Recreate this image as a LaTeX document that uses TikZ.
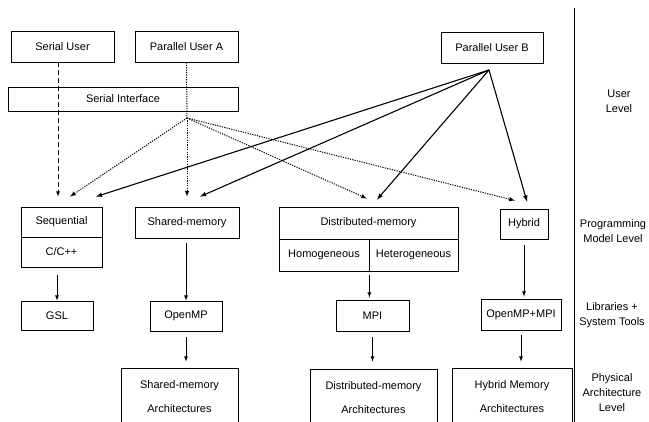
\documentclass[tikz,border=0pt]{standalone}
\usepackage{fontspec}
\setmainfont{Liberation Sans}

\begin{document}
\begin{tikzpicture}[x=1pt, y=-1pt,
    box/.style={draw, line width=.8pt, inner sep=0pt, font=\fontsize{11}{13}\selectfont},
    archbox/.style={box, align=center, font=\fontsize{11}{24}\selectfont},
    level/.style={align=center, font=\fontsize{11}{15}\selectfont},
    link/.style={line width=.8pt, -latex},
    dots/.style={line width=1pt, dash pattern=on 1.2pt off 1.2pt},
    userlink/.style={line width=1.1pt, -latex}]

    \useasboundingbox (0,0) rectangle (649,422);
    \clip (0,0) rectangle (649,422);

    % Draw user level boxes
    \node[box, minimum width=103, minimum height=31] (su) at (62.5,46.5) {Serial User};
    \node[box, minimum width=103, minimum height=31] (pua) at (186.5,46.5) {Parallel User A};
    \node[box, minimum width=102, minimum height=31] (pub) at (492,47.5) {Parallel User B};
    \node[box, minimum width=230, minimum height=24] (si) at (123,99) {Serial Interface};

    % Draw programming model boxes
    \node[box, minimum width=81, minimum height=30] (seq) at (61.5,222) {Sequential};
    \node[box, minimum width=81, minimum height=30] (cpp) at (61.5,252) {C/C++};
    \node[box, minimum width=104, minimum height=31] (shm) at (187,222.5) {Shared-memory};
    \node[box, minimum width=179, minimum height=32] (dist) at (368.5,223) {Distributed-memory};
    \node[box, minimum width=90, minimum height=32] (homo) at (324,255) {Homogeneous};
    \node[box, minimum width=89, minimum height=32] (hetero) at (413.5,255) {Heterogeneous};
    \node[box, minimum width=48, minimum height=30] (hyb) at (524,224) {Hybrid};

    % Draw library boxes
    \node[box, minimum width=72, minimum height=29] (gsl) at (57,315.5) {GSL};
    \node[box, minimum width=72, minimum height=30] (omp) at (186,316) {OpenMP};
    \node[box, minimum width=73, minimum height=31] (mpi) at (372.5,315.5) {MPI};
    \node[box, minimum width=80, minimum height=31] (ompmpi) at (521,314.5) {OpenMP+MPI};

    % Draw architecture boxes (cut at the bottom)
    \node[archbox, minimum width=117, minimum height=58] (shma) at (179.5,397) {Shared-memory\\Architectures};
    \node[archbox, minimum width=127, minimum height=58] (dista) at (373.5,398) {Distributed-memory\\Architectures};
    \node[archbox, minimum width=120, minimum height=58] (hyba) at (512,397) {Hybrid Memory\\Architectures};

    % Draw level labels and divider
    \draw[line width=.8pt] (574,8) -- (574,422);
    \node[level] (lvuser) at (619,101) {User\\Level};
    \node[level] (lvprog) at (613,231) {Programming\\Model Level};
    \node[level] (lvlib) at (612,315) {Libraries +\\System Tools};
    \node[level] (lvphys) at (612,393) {Physical\\Architecture\\Level};

    \coordinate (hub) at (187,118);
    \coordinate (pubhub) at (489,70);

    % Serial user
    \draw[link, dash pattern=on 5pt off 3pt] ([xshift=-4.5]su.south) -- ([xshift=-3.5,yshift=10]seq.north);

    % Parallel user A
    \draw[dots] (pua.south) -- (hub);
    \draw[link, dots] (hub) -- ([yshift=10]shm.north);
    \draw[link, dots] (hub) -- ([xshift=8.5,yshift=10]seq.north);
    \draw[link, dots] (hub) -- ([xshift=-1.5,yshift=8]dist.north);
    \draw[link, dots] (hub) -- ([xshift=-9,yshift=8]hyb.north);

    % Parallel user B
    \draw[userlink] (pubhub) -- ([xshift=34.5,yshift=10]seq.north);
    \draw[userlink] (pubhub) -- ([xshift=13,yshift=10]shm.north);
    \draw[userlink] (pubhub) -- ([xshift=8.5,yshift=7]dist.north);
    \draw[userlink] (pubhub) -- ([xshift=3,yshift=7]hyb.north);

    % Down the columns
    \draw[link, shorten <=8] (gsl.north |- cpp.south) -- (gsl.north);
    \draw[link, shorten <=5] (omp.north |- shm.south) -- (omp.north);
    \draw[link, shorten <=6, shorten >=6] (omp.south) -- (omp.south |- shma.north);
    \draw[link, shorten <=4, shorten >=2] (homo.south east) -- (homo.south east |- mpi.north);
    \draw[link, shorten <=6, shorten >=7] (mpi.south) -- (mpi.south |- dista.north);
    \draw[link, shorten <=6, shorten >=2] (hyb.south) -- (hyb.south |- ompmpi.north);
    \draw[link, shorten <=5, shorten >=6] (ompmpi.south) -- (ompmpi.south |- hyba.north);

\end{tikzpicture}
\end{document}
